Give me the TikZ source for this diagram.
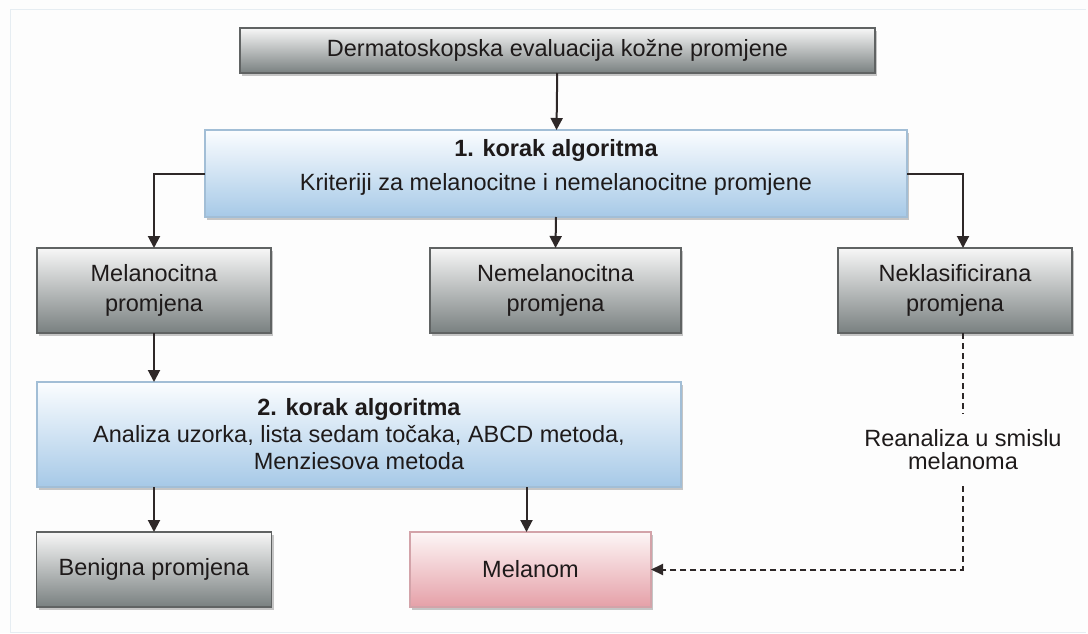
\documentclass[tikz,border=0pt]{standalone}
\usepackage{fontspec}
\setmainfont{Liberation Sans}
\usetikzlibrary{arrows.meta,shadows,calc}
\definecolor{bgc}{HTML}{FDFDFD}
\definecolor{frm}{HTML}{E6EDF2}
\definecolor{gtop}{HTML}{F7F7F7}
\definecolor{gbot}{HTML}{798080}
\definecolor{gbrd}{HTML}{606363}
\definecolor{btop}{HTML}{FBFDFF}
\definecolor{bbot}{HTML}{A6C9E7}
\definecolor{bbrd}{HTML}{A2BED6}
\definecolor{ptop}{HTML}{FDF6F6}
\definecolor{pbot}{HTML}{E5A0A8}
\definecolor{pbrd}{HTML}{D3A3A9}
\definecolor{linec}{HTML}{2E2828}
\definecolor{txt}{HTML}{1E1A1A}
\begin{document}
\begin{tikzpicture}[x=1pt,y=-1pt,
  box/.style={inner sep=0pt, outer sep=0pt, align=center, text=txt,
    font=\fontsize{23.5}{30}\selectfont, line width=1.2pt,
    drop shadow={shadow xshift=2pt, shadow yshift=-3pt, opacity=0.22, fill=black}},
  graybox/.style={box, draw=gbrd, top color=gtop, bottom color=gbot},
  bluebox/.style={box, draw=bbrd, top color=btop, bottom color=bbot},
  pinkbox/.style={box, draw=pbrd, top color=ptop, bottom color=pbot},
  conn/.style={draw=linec, line width=2pt, -{Triangle[length=12pt,width=12pt]}},
  dashline/.style={draw=linec, line width=2pt, dash pattern=on 6pt off 4pt},
  lab/.style={inner sep=0pt, align=center, text=txt, font=\fontsize{23.5}{23}\selectfont}
]
\fill[bgc] (0,0) rectangle (1088,633);
\useasboundingbox (0,0) rectangle (1088,633);
\draw[frm, line width=1pt] (1086,9) -- (10,9) -- (10,632) -- (1086,632);

\node[graybox, minimum width=635pt, minimum height=45pt] (top) at (557.5,50.5) {Dermatoskopska evaluacija kožne promjene};
\node[bluebox, minimum width=702pt, minimum height=87pt] (s1) at (556,173.5) {\textbf{1. korak algoritma}\\[4pt]Kriteriji za melanocitne i nemelanocitne promjene\\[-21pt]\strut};
\node[graybox, minimum width=234pt, minimum height=85pt] (mel) at (154,290.5) {Melanocitna\\promjena};
\node[graybox, minimum width=251pt, minimum height=85pt] (nem) at (555.5,290.5) {Nemelanocitna\\promjena};
\node[graybox, minimum width=234pt, minimum height=85pt] (nek) at (955,290.5) {Neklasificirana\\promjena};
\node[bluebox, minimum width=644pt, minimum height=105pt, font=\fontsize{23.5}{27}\selectfont] (s2) at (359,434.5) {\textbf{2. korak algoritma}\\Analiza uzorka, lista sedam točaka, ABCD metoda,\\Menziesova metoda};
\node[graybox, minimum width=235pt, minimum height=75pt] (ben) at (154,569.5) {Benigna promjena};
\node[pinkbox, minimum width=241pt, minimum height=75pt] (mlm) at (530.5,569.5) {Melanom};
\node[lab, minimum height=72pt] (rea) at (963,450) {Reanaliza u smislu\\melanoma};

\draw[conn] (top) -- (s1);
\draw[conn] (s1.west) -| (mel.north);
\draw[conn] (s1.south) -- (nem.north);
\draw[conn] (s1.east) -| ([xshift=8pt]nek.north);
\draw[conn] (mel.south) -- (mel.south |- s2.north);
\draw[conn] (ben.north |- s2.south) -- (ben.north);
\draw[conn] ([xshift=-4pt]mlm.north |- s2.south) -- ([xshift=-4pt]mlm.north);
\draw[dashline] ([xshift=8pt]nek.south) -- (rea.north);
\draw[dashline, -{Triangle[length=12pt,width=11pt]}] (rea.south) |- (mlm.east);
\end{tikzpicture}
\end{document}
